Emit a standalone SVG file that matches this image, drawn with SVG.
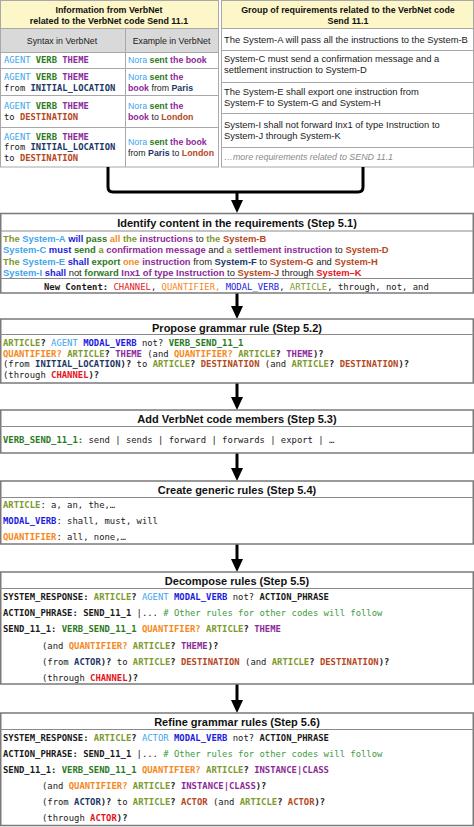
<svg xmlns="http://www.w3.org/2000/svg" width="474" height="827" viewBox="0 0 474 827">
<defs>
<style>
.s{font-family:"Liberation Sans",Arial,sans-serif;font-size:9.4px;fill:#1a1a1a}
.ts{font-family:"Liberation Sans",Arial,sans-serif;font-size:8.8px;fill:#1a1a1a}
.h{font-family:"Liberation Sans",Arial,sans-serif;font-size:8.9px;font-weight:bold;fill:#111;text-anchor:middle}
.t{font-family:"Liberation Sans",Arial,sans-serif;font-size:11px;font-weight:bold;fill:#111;text-anchor:middle}
.m{font-family:"DejaVu Sans Mono",monospace;font-size:8.9px;fill:#1a1a1a}
.tm{font-family:"DejaVu Sans Mono",monospace;font-size:8.8px;fill:#1a1a1a}
.b{font-weight:bold}
.art{fill:#7c9a2e}.agt{fill:#41a5ee}.mod{fill:#1c1ce0}.vrb{fill:#2b7a22}.thm{fill:#8d2a99}
.qua{fill:#f5891c}.ini{fill:#1b3766}.dst{fill:#b5481c}.chn{fill:#e5141c}.cmt{fill:#3e9a3e}
.box{fill:#fff;stroke:#7a7a7a;stroke-width:1.5}
.sep{stroke:#8a8a8a;stroke-width:1.2}
.tl{stroke:#a8a8a8;stroke-width:1;fill:none}
.con{stroke:#000;stroke-width:3;fill:none}
</style>
<marker id="ah" viewBox="0 0 13 12" refX="5" refY="6" markerWidth="13" markerHeight="12" markerUnits="userSpaceOnUse" orient="auto">
<path d="M0,0 L13,6 L0,12 z" fill="#000"/>
</marker>
</defs>
<rect width="474" height="827" fill="#fff"/>

<g id="verbnet-table">
<rect x="0.5" y="0.5" width="218" height="28" fill="#fcf6c8"/>
<rect x="0.5" y="28.5" width="218" height="24" fill="#d9d9d9"/>
<rect x="0.5" y="0.5" width="218" height="166.5" class="tl"/>
<line x1="0" y1="28.5" x2="219" y2="28.5" class="tl"/>
<line x1="0" y1="52.5" x2="219" y2="52.5" class="tl"/>
<line x1="0" y1="68.5" x2="219" y2="68.5" class="tl"/>
<line x1="0" y1="95.5" x2="219" y2="95.5" class="tl"/>
<line x1="0" y1="127.5" x2="219" y2="127.5" class="tl"/>
<line x1="125.5" y1="28.5" x2="125.5" y2="167" class="tl"/>
<text class="h" x="109" y="12.5">Information from VerbNet</text>
<text class="h" x="109" y="24">related to the VerbNet code Send 11.1</text>
<text class="ts" x="62" y="43.5" text-anchor="middle">Syntax in VerbNet</text>
<text class="ts" x="171.5" y="43.5" text-anchor="middle">Example in VerbNet</text>
<text class="tm" x="4" y="63"><tspan class="agt">AGENT</tspan> <tspan class="b vrb">VERB</tspan> <tspan class="b thm">THEME</tspan></text>
<text class="tm" x="4" y="80"><tspan class="agt">AGENT</tspan> <tspan class="b vrb">VERB</tspan> <tspan class="b thm">THEME</tspan></text>
<text class="tm" x="4" y="90.5">from <tspan class="b ini">INITIAL_LOCATION</tspan></text>
<text class="tm" x="4" y="109"><tspan class="agt">AGENT</tspan> <tspan class="b vrb">VERB</tspan> <tspan class="b thm">THEME</tspan></text>
<text class="tm" x="4" y="120">to <tspan class="b dst">DESTINATION</tspan></text>
<text class="tm" x="4" y="139.5"><tspan class="agt">AGENT</tspan> <tspan class="b vrb">VERB</tspan> <tspan class="b thm">THEME</tspan></text>
<text class="tm" x="4" y="150">from <tspan class="b ini">INITIAL_LOCATION</tspan></text>
<text class="tm" x="4" y="160.5">to <tspan class="b dst">DESTINATION</tspan></text>
<text class="ts" x="128" y="63.3"><tspan class="agt">Nora</tspan> <tspan class="b vrb">sent</tspan> <tspan class="b thm">the book</tspan></text>
<text class="ts" x="128" y="80.3"><tspan class="agt">Nora</tspan> <tspan class="b vrb">sent</tspan> <tspan class="b thm">the</tspan></text>
<text class="ts" x="128" y="91"><tspan class="b thm">book</tspan> from <tspan class="b ini">Paris</tspan></text>
<text class="ts" x="128" y="109.3"><tspan class="agt">Nora</tspan> <tspan class="b vrb">sent</tspan> <tspan class="b thm">the</tspan></text>
<text class="ts" x="128" y="120"><tspan class="b thm">book</tspan> to <tspan class="b dst">London</tspan></text>
<text class="ts" x="128" y="145.3"><tspan class="agt">Nora</tspan> <tspan class="b vrb">sent</tspan> <tspan class="b thm">the book</tspan></text>
<text class="ts" x="128" y="155.5">from <tspan class="b ini">Paris</tspan> to <tspan class="b dst">London</tspan></text>
</g>

<g id="requirements-table">
<rect x="221.5" y="0.5" width="252" height="28" fill="#fcf6c8"/>
<rect x="221.5" y="0.5" width="252" height="166.5" class="tl"/>
<line x1="221" y1="28.5" x2="474" y2="28.5" class="tl"/>
<line x1="221" y1="50.5" x2="474" y2="50.5" class="tl"/>
<line x1="221" y1="82.5" x2="474" y2="82.5" class="tl"/>
<line x1="221" y1="113.5" x2="474" y2="113.5" class="tl"/>
<line x1="221" y1="147.5" x2="474" y2="147.5" class="tl"/>
<text class="h" x="348" y="13">Group of requirements related to the VerbNet code</text>
<text class="h" x="348" y="24">Send 11.1</text>
<text class="s" x="224" y="42.8">The System-A will pass all the instructions to the System-B</text>
<text class="s" x="224" y="62">System-C must send a confirmation message and a</text>
<text class="s" x="224" y="72.6">settlement instruction to System-D</text>
<text class="s" x="224" y="94.5">The System-E shall export one instruction from</text>
<text class="s" x="224" y="105.6">System-F to System-G and System-H</text>
<text class="s" x="224" y="128.3">System-I shall not forward Inx1 of type Instruction to</text>
<text class="s" x="224" y="139.3">System-J through System-K</text>
<text class="s" x="224" y="160.3" style="font-style:italic;fill:#8a8a8a;font-size:8.9px">…more requirements related to SEND 11.1</text>
</g>

<g id="connectors">
<path class="con" d="M108,167 V187 Q108,192 113,192 H237"/>
<path class="con" d="M363,167 V187 Q363,192 358,192 H237"/>
<path class="con" d="M237,191 V205" marker-end="url(#ah)"/>
<path class="con" d="M237,293 V311" marker-end="url(#ah)"/>
<path class="con" d="M237,383 V402" marker-end="url(#ah)"/>
<path class="con" d="M237,453 V473" marker-end="url(#ah)"/>
<path class="con" d="M237,544 V564" marker-end="url(#ah)"/>
<path class="con" d="M237,684 V705" marker-end="url(#ah)"/>
</g>

<g id="step-5-1">
<rect class="box" x="0.75" y="213.5" width="472.5" height="79.5"/>
<line class="sep" x1="0" y1="231" x2="474" y2="231"/>
<line class="sep" x1="0" y1="278.5" x2="474" y2="278.5"/>
<text class="t" x="237" y="227">Identify content in the requirements (Step 5.1)</text>
<text class="s" x="3" y="241.5"><tspan class="b art">The</tspan> <tspan class="b agt">System-A</tspan> <tspan class="b mod">will</tspan> <tspan class="b vrb">pass</tspan> <tspan class="b qua">all</tspan> <tspan class="b art">the</tspan> <tspan class="b thm">instructions</tspan> to <tspan class="b art">the</tspan> <tspan class="b dst">System-B</tspan></text>
<text class="s" x="3" y="253"><tspan class="b agt">System-C</tspan> <tspan class="b mod">must</tspan> <tspan class="b vrb">send</tspan> <tspan class="b art">a</tspan> <tspan class="b thm">confirmation message</tspan> and  <tspan class="b art">a</tspan> <tspan class="b thm">settlement instruction</tspan> to <tspan class="b dst">System-D</tspan></text>
<text class="s" x="3" y="264.5"><tspan class="b art">The</tspan> <tspan class="b agt">System-E</tspan> <tspan class="b mod">shall</tspan> <tspan class="b vrb">export</tspan> <tspan class="b qua">one</tspan> <tspan class="b thm">instruction</tspan> from <tspan class="b ini">System-F</tspan> to <tspan class="b dst">System-G</tspan> and <tspan class="b dst">System-H</tspan></text>
<text class="s" x="3" y="275.5"><tspan class="b agt">System-I</tspan> <tspan class="b mod">shall</tspan> not <tspan class="b vrb">forward</tspan> <tspan class="b thm">Inx1 of type Instruction</tspan> to <tspan class="b dst">System-J</tspan> through <tspan class="b chn">System–K</tspan></text>
<text class="m" x="44" y="290"><tspan class="b">New Content:</tspan> <tspan class="chn">CHANNEL</tspan>, <tspan class="qua">QUANTIFIER,</tspan> <tspan class="mod">MODAL_VERB</tspan>, <tspan class="art">ARTICLE</tspan>, through, not, and</text>
</g>

<g id="step-5-2">
<rect class="box" x="0.75" y="319" width="472.5" height="64"/>
<line class="sep" x1="0" y1="334.5" x2="474" y2="334.5"/>
<text class="t" x="237" y="332">Propose grammar rule (Step 5.2)</text>
<text class="m" x="3" y="346"><tspan class="b art">ARTICLE</tspan><tspan class="b">?</tspan> <tspan class="agt">AGENT</tspan> <tspan class="b mod">MODAL_VERB</tspan> not? <tspan class="b vrb">VERB_SEND_11_1</tspan></text>
<text class="m" x="3" y="356.5"><tspan class="b qua">QUANTIFIER?</tspan> <tspan class="b art">ARTICLE</tspan><tspan class="b">?</tspan> <tspan class="b thm">THEME</tspan> (and <tspan class="b qua">QUANTIFIER?</tspan> <tspan class="b art">ARTICLE</tspan><tspan class="b">?</tspan> <tspan class="b thm">THEME</tspan><tspan class="b">)?</tspan></text>
<text class="m" x="3" y="367">(from <tspan class="b ini">INITIAL_LOCATION</tspan><tspan class="b">)?</tspan> to <tspan class="b art">ARTICLE</tspan><tspan class="b">?</tspan> <tspan class="b dst">DESTINATION</tspan> (and <tspan class="b art">ARTICLE</tspan><tspan class="b">?</tspan> <tspan class="b dst">DESTINATION</tspan><tspan class="b">)?</tspan></text>
<text class="m" x="3" y="378">(through <tspan class="b chn">CHANNEL</tspan><tspan class="b">)?</tspan></text>
</g>

<g id="step-5-3">
<rect class="box" x="0.75" y="410" width="472.5" height="43"/>
<line class="sep" x1="0" y1="426.5" x2="474" y2="426.5"/>
<text class="t" x="237" y="423">Add VerbNet code members (Step 5.3)</text>
<text class="m" x="3" y="443"><tspan class="b vrb">VERB_SEND_11_1:</tspan> send | sends | forward | forwards | export | …</text>
</g>

<g id="step-5-4">
<rect class="box" x="0.75" y="481" width="472.5" height="63"/>
<line class="sep" x1="0" y1="497.5" x2="474" y2="497.5"/>
<text class="t" x="237" y="494">Create generic rules (Step 5.4)</text>
<text class="m" x="3" y="508"><tspan class="b art">ARTICLE</tspan>: a, an, the,…</text>
<text class="m" x="3" y="524"><tspan class="b mod">MODAL_VERB</tspan>: shall, must, will</text>
<text class="m" x="3" y="540"><tspan class="b qua">QUANTIFIER</tspan>: all, none,…</text>
</g>

<g id="step-5-5">
<rect class="box" x="0.75" y="572" width="472.5" height="112"/>
<line class="sep" x1="0" y1="588.5" x2="474" y2="588.5"/>
<text class="t" x="237" y="585">Decompose rules (Step 5.5)</text>
<text class="m" x="3" y="600"><tspan class="b">SYSTEM_RESPONSE:</tspan> <tspan class="b art">ARTICLE</tspan><tspan class="b">?</tspan> <tspan class="agt">AGENT</tspan> <tspan class="b mod">MODAL_VERB</tspan> not? <tspan class="b">ACTION_PHRASE</tspan></text>
<text class="m" x="3" y="616"><tspan class="b">ACTION_PHRASE: SEND_11_1</tspan> |... <tspan class="cmt"># Other rules for other codes will follow</tspan></text>
<text class="m" x="3" y="632"><tspan class="b">SEND_11_1:</tspan> <tspan class="b vrb">VERB_SEND_11_1</tspan> <tspan class="b qua">QUANTIFIER?</tspan> <tspan class="b art">ARTICLE</tspan><tspan class="b">?</tspan> <tspan class="b thm">THEME</tspan></text>
<text class="m" x="42" y="648.5">(and <tspan class="b qua">QUANTIFIER?</tspan> <tspan class="b art">ARTICLE</tspan><tspan class="b">?</tspan> <tspan class="b thm">THEME</tspan><tspan class="b">)?</tspan></text>
<text class="m" x="42" y="665">(from <tspan class="b ini">ACTOR</tspan><tspan class="b">)?</tspan> to <tspan class="b art">ARTICLE</tspan><tspan class="b">?</tspan> <tspan class="b dst">DESTINATION</tspan> (and <tspan class="b art">ARTICLE</tspan><tspan class="b">?</tspan> <tspan class="b dst">DESTINATION</tspan><tspan class="b">)?</tspan></text>
<text class="m" x="42" y="681">(through <tspan class="b chn">CHANNEL</tspan><tspan class="b">)?</tspan></text>
</g>

<g id="step-5-6">
<rect class="box" x="0.75" y="713" width="472.5" height="112.5"/>
<line class="sep" x1="0" y1="729.5" x2="474" y2="729.5"/>
<text class="t" x="237" y="726">Refine grammar rules (Step 5.6)</text>
<text class="m" x="3" y="740.5"><tspan class="b">SYSTEM_RESPONSE:</tspan> <tspan class="b art">ARTICLE</tspan><tspan class="b">?</tspan> <tspan class="agt">ACTOR</tspan> <tspan class="b mod">MODAL_VERB</tspan> not? <tspan class="b">ACTION_PHRASE</tspan></text>
<text class="m" x="3" y="756.5"><tspan class="b">ACTION_PHRASE: SEND_11_1</tspan> |... <tspan class="cmt"># Other rules for other codes will follow</tspan></text>
<text class="m" x="3" y="772.5"><tspan class="b">SEND_11_1:</tspan> <tspan class="b vrb">VERB_SEND_11_1</tspan> <tspan class="b qua">QUANTIFIER?</tspan> <tspan class="b art">ARTICLE</tspan><tspan class="b">?</tspan> <tspan class="b thm">INSTANCE|CLASS</tspan></text>
<text class="m" x="42" y="789">(and <tspan class="b qua">QUANTIFIER?</tspan> <tspan class="b art">ARTICLE</tspan><tspan class="b">?</tspan> <tspan class="b thm">INSTANCE|CLASS</tspan><tspan class="b">)?</tspan></text>
<text class="m" x="42" y="805">(from <tspan class="b ini">ACTOR</tspan><tspan class="b">)?</tspan> to <tspan class="b art">ARTICLE</tspan><tspan class="b">?</tspan> <tspan class="b dst">ACTOR</tspan> (and <tspan class="b art">ARTICLE</tspan><tspan class="b">?</tspan> <tspan class="b dst">ACTOR</tspan><tspan class="b">)?</tspan></text>
<text class="m" x="42" y="821">(through <tspan class="b chn">ACTOR</tspan><tspan class="b">)?</tspan></text>
</g>
</svg>
